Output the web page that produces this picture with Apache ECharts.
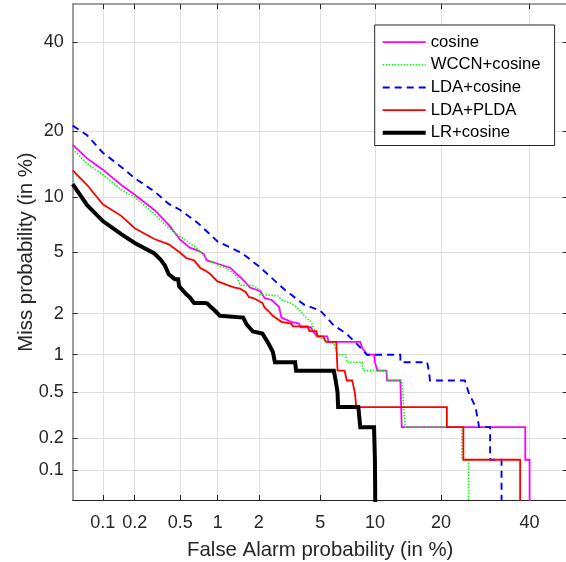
<!DOCTYPE html>
<html><head><meta charset="utf-8">
<script src="https://cdn.jsdelivr.net/npm/echarts@6/dist/echarts.min.js"></script>
<style>html,body{margin:0;padding:0;background:#fff}#c{width:566px;height:562px}</style>
</head><body><div id="c"></div>
<script>
// Tick values (in %)
const tickValues = [0.1, 0.2, 0.5, 1, 2, 5, 10, 20, 40];
const tickLabels = ['0.1', '0.2', '0.5', '1', '2', '5', '10', '20', '40'];
const axisRange = [0.05, 50];

const seriesNames = ['cosine', 'WCCN+cosine', 'LDA+cosine', 'LDA+PLDA', 'LR+cosine'];

// False alarm (%) / Miss (%) per system
const cosineFA = [0.05,0.07,0.1,0.15,0.2,0.3,0.4,0.5,0.6,0.7,0.78,0.82,1.04,1.25,1.4,1.5,1.63,1.73,2.05,2.2,2.45,2.75,2.85,3.3,3.7,3.8,4.4,4.5,4.8,5.5,5.6,8.4,8.6,9.1,9.9,10.0,10.3,11.4,11.5,13.3,13.5,38.9,38.9,40,40];
const cosineMiss = [17.5,15.3,13.6,11.5,10.3,8.6,7.15,5.9,5.3,5.1,4.85,4.45,4.2,4.0,3.65,3.45,3.2,3.0,2.85,2.55,2.48,2.23,1.875,1.75,1.7,1.6,1.6,1.5,1.375,1.375,1.25,1.25,1.125,1.0,1.0,0.875,0.75,0.75,0.625,0.625,0.25,0.25,0.125,0.125,0.01];

const wccnFA = [0.05,0.07,0.1,0.15,0.2,0.3,0.4,0.5,0.7,0.83,1.02,1.2,1.4,1.47,1.8,1.95,2.05,2.7,2.85,3.25,3.55,3.75,4.0,4.4,4.6,4.9,5.2,6.0,6.3,7.0,7.1,8.6,8.7,11.4,11.6,13.5,14.0,24.1,24.1,25.5,25.5];
const wccnMiss = [16.8,14.5,12.9,10.9,10.0,8.2,6.85,6.15,5.2,4.5,4.15,3.95,3.5,3.1,3.1,3.0,2.7,2.65,2.48,2.37,2.23,2.1,1.93,1.75,1.55,1.375,1.3,1.22,1.0,1.0,0.875,0.875,0.75,0.75,0.625,0.625,0.25,0.25,0.125,0.125,0.01];

const ldaFA = [0.05,0.07,0.1,0.15,0.2,0.3,0.4,0.5,0.7,1,1.5,2,3,4,5,6,7,8,9.1,13.3,13.3,17.5,17.8,18,24.7,25.5,27,27.8,30.3,30.3,33,33];
const ldaMiss = [21,19.2,16.2,14.0,12.4,10.7,9.25,8.6,7.3,5.75,4.95,4.1,2.9,2.3,2.1,1.65,1.45,1.22,1.0,1.0,0.875,0.875,0.75,0.625,0.625,0.5,0.375,0.25,0.25,0.125,0.125,0.01];

const pldaFA = [0.05,0.07,0.1,0.15,0.2,0.3,0.4,0.5,0.56,0.65,0.73,0.8,0.88,0.99,1.2,1.35,1.47,1.62,1.7,1.83,1.95,2.12,2.2,2.37,2.5,2.85,3.3,3.4,4.2,4.3,4.75,4.8,5.2,5.4,6.2,6.3,6.9,7.1,7.6,7.85,8.0,21.1,21.1,24.4,24.4,37.6,37.6];
const pldaMiss = [13.5,11.5,9.2,8.0,6.85,5.95,5.55,4.95,4.6,4.45,4.0,3.85,3.65,3.3,3.1,3.0,2.95,2.8,2.6,2.55,2.48,2.37,2.2,2.05,1.93,1.75,1.7,1.625,1.625,1.5,1.5,1.375,1.375,1.25,1.25,0.75,0.75,0.625,0.625,0.5,0.375,0.375,0.25,0.25,0.125,0.125,0.01];

const lrFA = [0.05,0.07,0.1,0.15,0.2,0.3,0.34,0.37,0.4,0.45,0.48,0.49,0.53,0.56,0.6,0.65,0.8,0.83,0.88,0.95,1.04,1.07,1.55,1.64,1.73,1.82,2.12,2.25,2.37,2.5,2.58,3.5,3.55,6.0,6.15,6.3,6.35,8.2,8.4,9.9,10.0,10.1,10.1];
const lrMiss = [11.6,9.1,7.5,6.35,5.65,4.9,4.5,4.15,3.65,3.4,3.4,3.05,2.85,2.72,2.58,2.37,2.37,2.35,2.23,2.1,1.93,1.875,1.875,1.68,1.58,1.49,1.44,1.3,1.18,1.05,0.875,0.875,0.75,0.75,0.625,0.5,0.375,0.375,0.25,0.25,0.125,0.125,0.01];

// inverse normal CDF (probit) for DET-scale axes
function probit(p) {
  const a=[-3.969683028665376e+01,2.209460984245205e+02,-2.759285104469687e+02,1.383577518672690e+02,-3.066479806614716e+01,2.506628277459239e+00];
  const b=[-5.447609879822406e+01,1.615858368580409e+02,-1.556989798598866e+02,6.680131188771972e+01,-1.328068155288572e+01];
  const c=[-7.784894002430293e-03,-3.223964580411365e-01,-2.400758277161838e+00,-2.549671010229583e+00,4.374664141464968e+00,2.938163982698783e+00];
  const d=[7.784695709041462e-03,3.224671290700398e-01,2.445134137142996e+00,3.754408661907416e+00];
  const pl=0.02425, ph=1-pl; let q, r;
  if (p < pl) { q=Math.sqrt(-2*Math.log(p)); return (((((c[0]*q+c[1])*q+c[2])*q+c[3])*q+c[4])*q+c[5])/((((d[0]*q+d[1])*q+d[2])*q+d[3])*q+1); }
  if (p <= ph) { q=p-0.5; r=q*q; return (((((a[0]*r+a[1])*r+a[2])*r+a[3])*r+a[4])*r+a[5])*q/(((((b[0]*r+b[1])*r+b[2])*r+b[3])*r+b[4])*r+1); }
  q=Math.sqrt(-2*Math.log(1-p)); return -(((((c[0]*q+c[1])*q+c[2])*q+c[3])*q+c[4])*q+c[5])/((((d[0]*q+d[1])*q+d[2])*q+d[3])*q+1);
}
const P = v => probit(v / 100);
const toData = (fa, miss) => fa.map((f, i) => [P(f), P(miss[i])]);

const tickPos = tickValues.map(P);
const fmt = v => { let bi = 0, bd = Infinity; tickPos.forEach((t, i) => { const dd = Math.abs(t - v); if (dd < bd) { bd = dd; bi = i; } }); return tickLabels[bi]; };

const FONT = '"Liberation Sans", Arial, Helvetica, sans-serif';
const AX = '#262626';
const GRIDC = '#dfdfdf';

function mkAxis(pos, main, lineColor) {
  return {
    type: 'value', position: pos,
    min: P(axisRange[0]), max: P(axisRange[1]),
    axisLine: { show: true, onZero: false, lineStyle: { color: lineColor, width: 1 } },
    axisTick: { show: true, inside: true, length: 5, customValues: tickPos, lineStyle: { color: AX, width: 1 } },
    axisLabel: { show: main, customValues: tickPos, formatter: fmt, fontSize: 18, color: AX, fontFamily: FONT, margin: pos === 'bottom' ? 14 : 9 },
    splitLine: { show: main, lineStyle: { color: GRIDC, width: 1 } },
    minorTick: { show: false }
  };
}

const xMain = mkAxis('bottom', true, AX);
xMain.name = 'False Alarm probability (in %)';
xMain.nameLocation = 'middle';
xMain.nameGap = 40;
xMain.nameTextStyle = { fontSize: 20.4, color: AX, fontFamily: FONT };
const yMain = mkAxis('left', true, '#808080');
yMain.name = 'Miss probability (in %)';
yMain.nameLocation = 'middle';
yMain.nameGap = 36;
yMain.nameMoveOverlap = false;
yMain.nameTextStyle = { fontSize: 20.4, color: AX, fontFamily: FONT };
yMain.axisLine.lineStyle.width = 1.5;
const xTop = mkAxis('top', false, '#808080');
xTop.axisLine.lineStyle.width = 1.5;
const yRight = mkAxis('right', false, AX);

const styles = [
  { color: '#ff00ff', width: 1.8, type: 'solid' },
  { color: '#00ff00', width: 1.6, type: [1.5, 1.5] },
  { color: '#0000ff', width: 1.9, type: [7, 5] },
  { color: '#ff0000', width: 1.8, type: 'solid' },
  { color: '#000000', width: 4, type: 'solid' }
];
const datas = [
  toData(cosineFA, cosineMiss),
  toData(wccnFA, wccnMiss),
  toData(ldaFA, ldaMiss),
  toData(pldaFA, pldaMiss),
  toData(lrFA, lrMiss)
];

const chart = echarts.init(document.getElementById('c'), null, { renderer: 'canvas' });
chart.setOption({
  animation: false,
  backgroundColor: '#fff',
  grid: { left: 72.7, top: 4.1, width: 495, height: 495.9, containLabel: false, outerBoundsMode: 'none' },
  xAxis: [xMain, xTop],
  yAxis: [yMain, yRight],
  legend: {
    orient: 'vertical', left: 374.7, top: 25,
    padding: [8.1, 14, 3.6, 6],
    itemWidth: 43, itemHeight: 22.6, itemGap: 4.6,
    backgroundColor: '#fff', borderColor: AX, borderWidth: 1, borderRadius: 0,
    textStyle: { fontSize: 16.7, color: '#000', fontFamily: FONT },
    lineStyle: { width: 'inherit' },
    itemStyle: { opacity: 0, borderWidth: 0 },
    data: seriesNames
  },
  series: seriesNames.map((n, i) => ({
    name: n, type: 'line', xAxisIndex: 0, yAxisIndex: 0,
    data: datas[i], symbol: 'none', showSymbol: false, clip: true,
    lineStyle: { color: styles[i].color, width: styles[i].width, type: styles[i].type, cap: 'butt', join: 'miter' },
    itemStyle: { color: styles[i].color },
    emphasis: { disabled: true }
  }))
});
</script></body></html>
